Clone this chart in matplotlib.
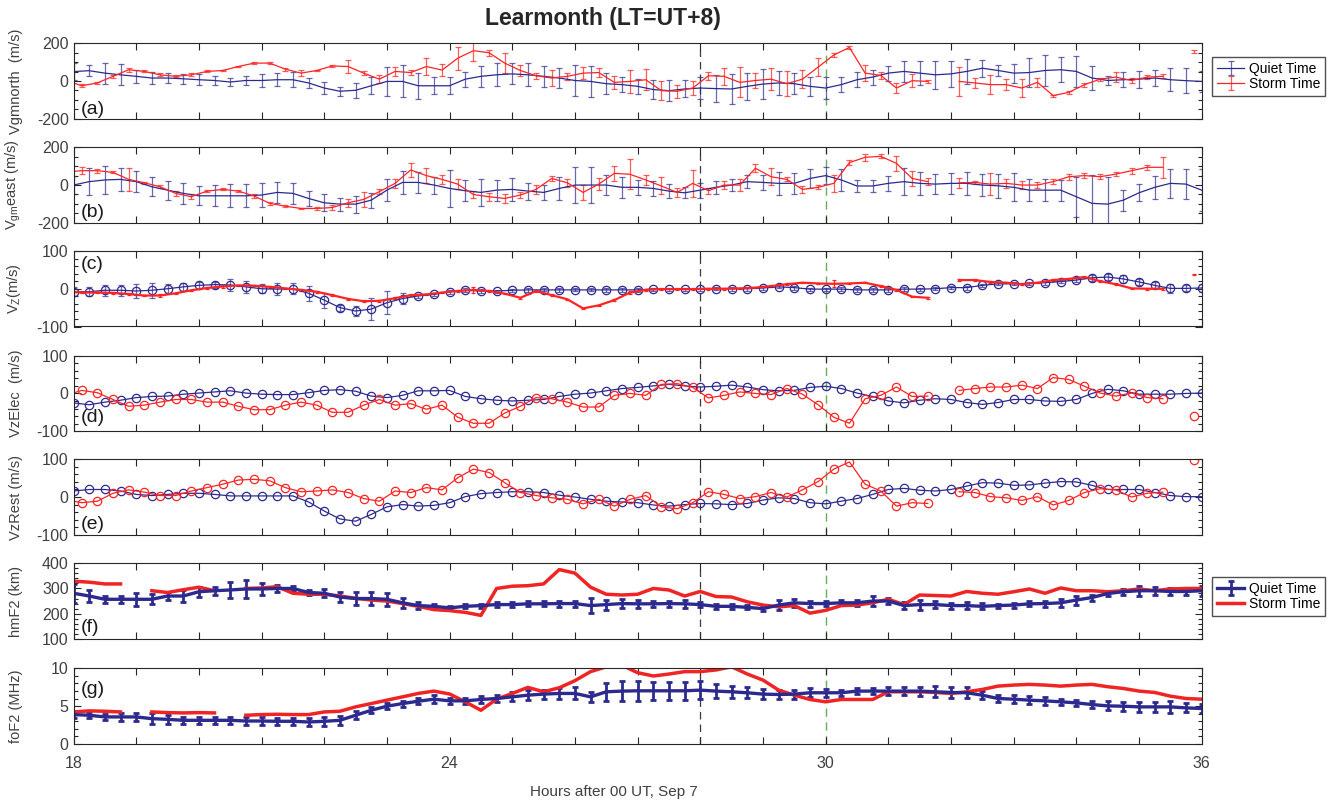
import numpy as np
import matplotlib
matplotlib.use('Agg')
import matplotlib.pyplot as plt
from matplotlib.ticker import MultipleLocator

plt.rcParams['font.family'] = ['Liberation Sans', 'DejaVu Sans']
plt.rcParams['axes.unicode_minus'] = False
nan = np.nan

# 15분 간격 시간축 (quiet), storm 은 약간 앞당겨진 시간
hours = np.arange(18, 36.001, 0.25)
storm_hours = hours - 0.12

# (a) Vgmnorth
vgn_quiet = [50, 55, 42, 33, 25, 16, 16, 12, 7, 3, -5, 3, 3, 7, 7, -10, -37, -54, -49, -25, -2, -2, -25, -25, -25,
             10, 25, 33, 38, 33, 25, 16, 3, -2, -14, -19, -28, -45, -51, -42, -37, -40, -42, -28, -16, -10, -14, -28, -37, -19, 7, 21, 42,
             51, 42, 33, 38, 51, 68, 56, 42, 45, 56, 60, 51, 16, 3, 7, 10, 16, 7, 2, -2]
vgn_quiet_err = [45, 30, 55, 55, 35, 30, 25, 25, 30, 25, 20, 25, 35, 35, 40, 25, 30, 25, 40, 45, 75, 85, 70, 45, 45,
                 40, 55, 60, 55, 60, 55, 55, 80, 80, 55, 40, 40, 50, 55, 45, 60, 70, 80, 70, 80, 65, 55, 50, 60, 40, 40, 40, 40,
                 55, 65, 75, 70, 65, 45, 30, 50, 75, 80, 65, 80, 65, 25, 40, 45, 40, 60, 65, 55]
vgn_storm = [4, -25, -10, 25, 60, 51, 33, 25, 33, 51, 56, 77, 95, 95, 63, 42, 56, 80, 77, 42, 10, 51, 45, 77, 58,
             121, 161, 150, 95, 56, 28, 16, 25, 42, 45, -7, -2, 7, -51, -54, -37, 28, 25, -7, 3, 10, -14, 10, 74, 138, 178, 42, 30,
             -37, 2, -2, nan, -2, -10, -19, -19, -37, -7, -77, -60, -19, 10, 21, 3, 21, 25, nan, 156]
vgn_storm_err = [5, 8, 5, 8, 10, 5, 8, 5, 8, 5, 5, 5, 5, 5, 8, 15, 5, 5, 35, 12, 20, 25, 15, 45, 30,
                 61, 57, 17, 52, 30, 16, 44, 17, 30, 22, 35, 61, 57, 50, 35, 35, 22, 45, 79, 40, 57, 66, 46, 48, 9, 9, 44, 17,
                 25, 35, 10, nan, 75, 25, 50, 30, 50, 25, 5, 8, 10, 8, 25, 15, 10, 10, nan, 10]

# (b) Vgmeast
vge_quiet = [0, 18, 27, 30, 18, -9, -27, -44, -57, -57, -57, -57, -53, -39, -44, -71, -94, -101, -101, -80, -27, 14, 14, 0, -18,
             -30, -39, -27, -23, -32, -39, -18, 0, 0, 0, -12, -12, -18, -32, -41, -27, -12, 0, 18, 14, 9, 9, 35, 50, 27, -5, -5, 9,
             18, 9, 5, 9, 9, 0, -4, -12, -27, -27, -27, -62, -97, -101, -80, -41, -12, 9, 5, -27]
vge_quiet_err = [50, 70, 75, 60, 55, 50, 50, 55, 50, 55, 60, 60, 65, 55, 55, 40, 45, 35, 45, 40, 60, 60, 55, 45, 100,
                 55, 70, 55, 60, 45, 40, 60, 95, 95, 55, 55, 40, 40, 35, 30, 40, 35, 30, 35, 40, 60, 55, 50, 45, 60, 30, 30, 40,
                 70, 60, 55, 55, 60, 60, 65, 75, 60, 60, 55, 106, 150, 145, 55, 45, 60, 75, 80, 110]
vge_storm = [70, 76, 76, 67, 30, 12, -9, -44, -62, -32, -23, -32, -58, -97, -112, -124, -124, -119, -94, -76, -35, 9, 80, 50, 30,
             5, -50, -62, -71, -53, -23, 35, 12, -39, 5, 62, 57, 27, -5, -39, 9, -30, 0, 0, 89, 44, 30, -23, -12, 9, 119, 147, 152,
             115, 35, 18, nan, 12, 14, 5, 9, 0, 0, 18, 44, 50, 44, 58, 76, 94, 94, nan, nan]
vge_storm_err = [20, 20, 10, 5, 62, 5, 8, 12, 12, 5, 5, 5, 8, 8, 5, 5, 8, 12, 20, 40, 15, 25, 35, 40, 25,
                 25, 20, 22, 25, 15, 25, 15, 20, 40, 30, 40, 80, 25, 45, 25, 70, 15, 20, 30, 20, 45, 10, 20, 10, 45, 15, 20, 10,
                 40, 40, 20, nan, 25, 8, 60, 25, 20, 15, 15, 15, 12, 12, 12, 15, 12, 55, nan, nan]

# (c) Vz
vz_quiet = [-8, -8, -4, -4, -6, -4, 0, 5, 9, 11, 10, 5, 0, -1, 0, -12, -30, -50, -59, -54, -37, -26, -19, -15, -8,
            -4, -6, -6, -4, -3, -3, -3, -3, -3, -3, -3, -3, -1, -1, -1, -1, 0, 0, 0, 2, 5, 3, -1, -1, -1, -3, -3, -3,
            -1, -1, 0, 3, 3, 9, 13, 13, 14, 16, 19, 23, 29, 31, 26, 18, 9, 1, 1, 2]
vz_quiet_err = [12, 12, 14, 14, 18, 20, 12, 10, 10, 8, 15, 15, 12, 15, 15, 20, 20, 8, 12, 30, 30, 15, 5, 5, 5,
                5, 5, 4, 4, 5, 4, 5, 4, 4, 5, 6, 6, 4, 4, 4, 4, 4, 5, 5, 4, 4, 5, 4, 4, 5, 6, 6, 5,
                5, 4, 4, 4, 5, 4, 4, 4, 5, 5, 5, 6, 8, 8, 10, 8, 8, 12, 8, 10]
vz_storm = [-8, -10, -10, -11, -14, -18, -18, -12, -4, 2, 6, 9, 8, 5, 1, -3, -8, -17, -27, -33, -32, -25, -17, -15, -10,
            -6, -3, -6, -13, -24, -6, -17, -28, -52, -44, -30, -10, -3, -1, -1, -1, 0, 0, 1, 3, 7, 12, 16, 14, 13, 14, 16, 7,
            -3, -21, -24, nan, 23, 23, 18, 16, 12, 16, 23, 26, 31, 20, 12, 1, 0, 0, nan, 38]
vz_storm_err = [2, 2, 2, 3, 2, 2, 3, 2, 2, 2, 3, 2, 2, 2, 2, 3, 2, 2, 3, 2, 2, 2, 3, 2, 2,
                2, 7, 2, 2, 2, 2, 2, 2, 2, 2, 2, 3, 2, 2, 2, 2, 2, 2, 2, 2, 3, 2, 2, 2, 9, 2, 2, 2,
                2, 2, 2, nan, 2, 2, 2, 2, 2, 2, 2, 2, 2, 2, 2, 2, 2, 2, nan, 2]

# (d) VzElec
vze_quiet = [-25, -30, -23, -18, -11, -8, -7, -2, 1, 4, 7, 1, -2, -3, -3, 2, 8, 10, 6, -7, -11, -5, 7, 7, 8,
             -8, -14, -18, -20, -18, -16, -8, -2, 1, 7, 13, 16, 20, 24, 20, 17, 19, 22, 17, 10, 7, 8, 16, 19, 13, 1, -8, -20,
             -25, -18, -14, -16, -24, -29, -24, -16, -16, -20, -21, -16, 0, 11, 7, -2, -2, -2, 0, 1]
vze_storm = [-5, 8, 2, -16, -34, -31, -23, -16, -16, -23, -23, -34, -43, -43, -31, -23, -31, -50, -50, -31, -16, -31, -27, -42, -31,
             -63, -79, -79, -52, -34, -11, -14, -23, -36, -36, -5, 0, -5, 24, 26, 16, -12, -5, 4, 0, -3, 13, -2, -30, -63, -79, -14, -5,
             17, -8, -7, nan, 8, 13, 17, 17, 22, 13, 42, 37, 19, 1, -7, 1, -11, -14, nan, -60]

# (e) VzRest
vzr_quiet = [16, 20, 20, 16, 7, 4, 7, 10, 10, 7, 3, 3, 3, 3, 3, -13, -37, -58, -64, -46, -26, -20, -24, -22, -15,
             1, 9, 12, 14, 14, 12, 5, 0, -6, -11, -13, -15, -21, -24, -20, -17, -18, -20, -17, -8, -2, -4, -15, -18, -11, -4, 7, 20,
             23, 18, 16, 20, 29, 38, 37, 31, 32, 37, 41, 40, 31, 20, 20, 20, 12, 4, 1, 1]
vzr_storm = [-7, -15, -11, 10, 19, 13, 4, 4, 16, 25, 34, 45, 47, 43, 25, 14, 16, 19, 12, -4, -11, 16, 12, 25, 19,
             51, 74, 65, 38, 12, 4, -2, -6, -18, -6, -24, -6, 4, -26, -31, -15, 14, 7, -4, 1, 12, 0, 19, 41, 74, 93, 34, 16,
             -24, -15, -17, nan, 14, 12, 1, -2, -9, 1, -21, -9, 12, 22, 19, 0, 10, 13, nan, 98]

# (f) hmF2
hmf2_quiet = [281, 270, 257, 257, 257, 257, 270, 270, 287, 291, 294, 298, 298, 300, 300, 284, 281, 266, 260, 260, 257, 243, 232, 229, 223,
              229, 232, 236, 236, 239, 239, 240, 240, 232, 236, 240, 239, 239, 240, 239, 236, 229, 229, 225, 220, 234, 243, 240, 240, 243, 243, 250, 250,
              232, 236, 236, 232, 232, 229, 232, 234, 239, 240, 243, 254, 264, 280, 287, 291, 291, 288, 288, 291]
hmf2_quiet_err = [37, 25, 15, 15, 25, 20, 15, 25, 20, 15, 30, 35, 25, 15, 10, 10, 15, 20, 25, 25, 25, 20, 15, 10, 8,
                  8, 8, 10, 10, 10, 10, 12, 12, 30, 20, 18, 15, 12, 12, 15, 10, 10, 10, 8, 10, 20, 15, 12, 10, 10, 12, 20, 12,
                  15, 20, 15, 12, 15, 12, 8, 10, 10, 12, 15, 18, 12, 10, 12, 20, 15, 15, 15, 20]
hmf2_storm = [329, 325, 318, 318, nan, 291, 284, 295, 305, 291, nan, 300, 302, 307, 281, 277, 277, 270, 261, 254, 250, 240, 229, 216, 212,
              205, 193, 300, 309, 311, 318, 375, 361, 305, 277, 274, 277, 300, 294, 270, 288, 268, 266, 247, 234, 227, 232, 202, 213, 232, 234, 243, 257,
              236, 274, 272, 270, 288, 281, 277, 287, 298, 281, 302, 291, 291, 287, 291, 298, 291, 298, 300, 300]

# (g) foF2
fof2_quiet = [3.87, 3.78, 3.56, 3.56, 3.56, 3.33, 3.24, 3.11, 3.11, 3.11, 3.11, 3.02, 3.02, 2.98, 2.98, 2.89, 2.98, 3.11, 3.78, 4.44, 4.98, 5.33, 5.64, 5.91, 5.69,
              5.69, 5.87, 6.0, 6.22, 6.44, 6.58, 6.67, 6.67, 6.22, 6.89, 6.98, 7.02, 7.02, 7.02, 7.02, 7.11, 6.98, 6.89, 6.76, 6.58, 6.53, 6.58, 6.76, 6.76, 6.76, 6.98, 6.98, 6.98,
              6.98, 6.98, 6.89, 6.8, 6.76, 6.44, 6.0, 5.91, 5.78, 5.69, 5.56, 5.42, 5.2, 5.02, 4.98, 4.89, 4.89, 4.89, 4.76, 4.67]
fof2_quiet_err = [0.5, 0.4, 0.4, 0.5, 0.5, 0.7, 0.6, 0.5, 0.5, 0.5, 0.5, 0.5, 0.5, 0.5, 0.5, 0.5, 0.6, 0.6, 0.5, 0.4, 0.4, 0.4, 0.4, 0.5, 0.4,
                  0.4, 0.4, 0.5, 0.6, 0.7, 0.6, 0.7, 0.8, 0.7, 1.2, 1.3, 1.3, 1.2, 1.2, 1.2, 1.2, 0.9, 0.8, 0.7, 0.7, 0.6, 0.6, 0.6, 0.5, 0.4, 0.4, 0.4, 0.5,
                  0.5, 0.6, 0.7, 0.7, 0.7, 0.5, 0.5, 0.5, 0.5, 0.5, 0.4, 0.4, 0.5, 0.6, 0.6, 0.7, 0.7, 0.8, 0.6, 0.6]
fof2_storm = [4.22, 4.36, 4.31, 4.22, nan, 4.22, 4.13, 4.09, 4.13, 4.09, nan, 3.78, 3.87, 3.91, 3.87, 3.87, 4.22, 4.31, 4.89, 5.33, 5.78, 6.22, 6.67, 6.98, 6.6,
              5.56, 4.44, 5.91, 6.67, 7.47, 6.89, 7.42, 8.36, 9.56, 10.2, 10.4, 9.42, 8.98, 9.24, 9.56, 9.56, 9.78, 10.2, 9.24, 8.44, 7.11, 6.44, 5.87, 5.56, 5.87, 5.87, 5.87, 6.89,
              6.89, 6.89, 6.8, 6.67, 6.89, 7.2, 7.64, 7.78, 7.87, 7.78, 7.64, 7.78, 7.87, 7.56, 7.33, 6.98, 6.8, 6.31, 6.0, 5.91]

blue = '#2c2a8e'
blue_e = (0.17, 0.16, 0.56, 0.7)
red = '#ff2424'
grey = '#404040'

fig = plt.figure(figsize=(13.31, 8.05), dpi=100)
W, H = 1331, 805
left, right = 73.5, 1201.7
tops = [43.3, 147.3, 251, 355.7, 459.3, 563.3, 668.3]
ph = 75.5
axes = []
for tp in tops:
    ax = fig.add_axes([left / W, 1 - (tp + ph) / H, (right - left) / W, ph / H])
    axes.append(ax)

ylabels = ['Vgmnorth  (m/s)', r'$\mathregular{V_{gm}}$east (m/s)', r'$\mathregular{V_Z}$(m/s)',
           'VzElec  (m/s)', 'VzRest (m/s)', 'hmF2 (km)', 'foF2 (MHz)']
ylims = [(-200, 200), (-200, 200), (-100, 100), (-100, 100), (-100, 100), (100, 400), (0, 10)]
yticks = [[-200, 0, 200], [-200, 0, 200], [-100, 0, 100], [-100, 0, 100], [-100, 0, 100], [100, 200, 300, 400], [0, 5, 10]]
yminor = [50, 50, 20, 20, 20, 20, 1]
letters = ['(a)', '(b)', '(c)', '(d)', '(e)', '(f)', '(g)']
letter_y = [0.12, 0.14, 0.815, 0.18, 0.14, 0.15, 0.72]

for i, ax in enumerate(axes):
    ax.axvline(28, color='#3a3a3a', lw=0.9, ls=(0, (6, 4)), zorder=1)
    ax.axvline(30, color='#6aab5c', lw=1.0, ls=(0, (6, 4)), zorder=1)
    ax.set_xlim(18, 36)
    ax.set_ylim(*ylims[i])
    ax.set_xticks([18, 24, 30, 36])
    ax.set_xticks(np.arange(18, 37, 1), minor=True)
    ax.set_yticks(yticks[i])
    ax.yaxis.set_minor_locator(MultipleLocator(yminor[i]))
    ax.tick_params(which='both', direction='in', top=True, right=True, length=5, width=0.8,
                   colors='#262626', labelcolor=grey, labelsize=11.5)
    ax.tick_params(axis='y', which='minor', length=3)
    ax.tick_params(axis='x', pad=9)
    if i < 6:
        ax.tick_params(labelbottom=False)
    for s in ax.spines.values():
        s.set_color('#262626')
        s.set_linewidth(0.8)
    ax.set_ylabel(ylabels[i], fontsize=10.5, color=grey)
    ax.yaxis.set_label_coords(-0.045, 0.5)
    ax.text(0.006, letter_y[i], letters[i], transform=ax.transAxes, fontsize=14,
            color='#1a1a1a', ha='left', va='center', zorder=5)

leg_kw = dict(loc='upper left', bbox_to_anchor=(1.009, 0.82), borderaxespad=0, fontsize=10,
              frameon=True, fancybox=False, edgecolor='#262626', handlelength=2.0,
              labelspacing=0.1, borderpad=0.35, handletextpad=0.3)

# (a), (b) 수평 바람
for ax, q, qe, s, se in [(axes[0], vgn_quiet, vgn_quiet_err, vgn_storm, vgn_storm_err),
                         (axes[1], vge_quiet, vge_quiet_err, vge_storm, vge_storm_err)]:
    hq = ax.errorbar(hours, q, yerr=qe, color=blue, ecolor=blue_e, lw=0.9, elinewidth=0.9,
                     capsize=2.5, capthick=0.9, label='Quiet Time')
    hs = ax.errorbar(storm_hours, s, yerr=se, color=red, ecolor=(1, 0.15, 0.15, 0.75), lw=0.9,
                     elinewidth=0.9, capsize=2.5, capthick=0.9, label='Storm Time')
axes[0].legend(**leg_kw)

# (c) Vz
axes[2].errorbar(hours, vz_quiet, yerr=vz_quiet_err, color=blue, ecolor=blue_e, lw=0.9, elinewidth=0.9,
                 capsize=2.5, capthick=0.9, marker='o', mfc='none', ms=6, mew=0.9)
axes[2].errorbar(storm_hours, vz_storm, yerr=vz_storm_err, color=red, ecolor=red, lw=1.6, elinewidth=0.9,
                 capsize=1.5, capthick=0.9)

# (d), (e) 원 마커
for ax, q, s in [(axes[3], vze_quiet, vze_storm), (axes[4], vzr_quiet, vzr_storm)]:
    ax.plot(hours, q, color=blue, lw=0.9, marker='o', mfc='none', ms=6, mew=0.9)
    ax.plot(storm_hours, s, color=red, lw=0.9, marker='o', mfc='none', ms=6, mew=0.9)

# (f), (g) 굵은 선
for ax, q, qe, s in [(axes[5], hmf2_quiet, hmf2_quiet_err, hmf2_storm),
                     (axes[6], fof2_quiet, fof2_quiet_err, fof2_storm)]:
    hq = ax.errorbar(hours, q, yerr=qe, color=blue, ecolor=blue, lw=2.4, elinewidth=2.0,
                     capsize=2.5, capthick=2.0, label='Quiet Time')
    hs, = ax.plot(hours, s, color='#f02424', lw=2.5, label='Storm Time')
    if ax is axes[5]:
        ax.legend(handles=[hq, hs], **leg_kw)

axes[6].set_xticklabels(['18', '24', '30', '36'])
fig.text(0.5 * (478 + 728) / W, 1 - 18 / H, 'Learmonth (LT=UT+8)', fontsize=16.5, fontweight='bold',
         color='#262626', ha='center', va='center')
fig.text(614 / W, 1 - 792 / H, 'Hours after 00 UT, Sep 7', fontsize=11, color=grey,
         ha='center', va='center')

fig.savefig('out.png', dpi=100)
